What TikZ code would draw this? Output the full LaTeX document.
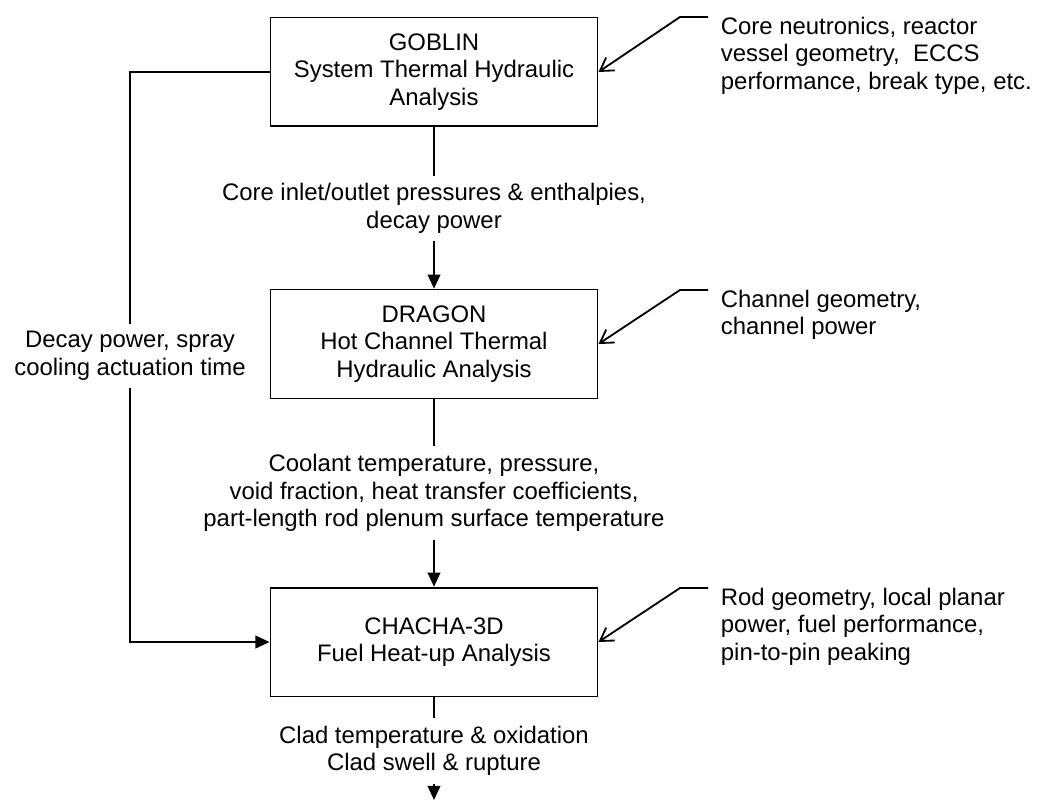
\documentclass[tikz,border=0pt]{standalone}
\usepackage{fontspec}
\setmainfont{Liberation Sans}
\usepackage{tikz}
\usetikzlibrary{arrows.meta, positioning, calc}

\begin{document}
\begin{tikzpicture}[
    x=0.025cm, y=-0.025cm,
    >={Triangle[length=10pt, width=9pt]},
    line width=1.3pt,
    font=\fontsize{17}{19.6}\selectfont,
    module/.style={draw, rectangle, minimum width=8.175cm, minimum height=2.72cm, align=center, inner sep=0pt},
    data/.style={align=center, inner sep=5pt},
    input/.style={align=left, inner sep=0pt, anchor=north west},
    feed/.style={-{Straight Barb[length=9pt, width=11pt]}}
  ]
  \useasboundingbox (0,0) rectangle (1039,800);

  % code modules
  \node (goblin) [module] at (434,72) {GOBLIN\\System Thermal Hydraulic\\Analysis};
  \node (dragon) [module] at (434,344) {DRAGON\\Hot Channel Thermal\\Hydraulic Analysis};
  \node (chacha) [module] at (434,642) {CHACHA-3D\\Fuel Heat-up Analysis};

  % data passed between modules
  \node (inlet) [data] at (434,208.5) {Core inlet/outlet pressures \& enthalpies,\\decay power};
  \node (coolant) [data] at (434,493) {Coolant temperature, pressure,\\void fraction, heat transfer coefficients,\\part-length rod plenum surface temperature};
  \node (clad) [data] at (434,751) {Clad temperature \& oxidation\\Clad swell \& rupture};
  \node (decay) [data] at (130,356) {Decay power, spray\\cooling actuation time};
  \coordinate (out) at (434,800);

  % external inputs
  \node (coreinp) [input] at (720,16) {Core neutronics, reactor\\vessel geometry,\ \ ECCS\\performance, break type, etc.};
  \node (chaninp) [input] at (720,289) {Channel geometry,\\channel power};
  \node (rodinp) [input] at (720,587) {Rod geometry, local planar\\power, fuel performance,\\pin-to-pin peaking};
  \coordinate (coreknee) at (680,17);
  \coordinate (chanknee) at (680,290);
  \coordinate (rodknee) at (680,588);

  \draw (goblin) -- (inlet);
  \draw[->] (inlet) -- (dragon);
  \draw (dragon) -- (coolant);
  \draw[->] (coolant) -- (chacha);
  \draw (chacha) -- (clad);
  \draw[->] (clad) -- (out);
  \draw (goblin.west) -| (decay.north);
  \draw[->] (decay.south) |- (chacha.west);

  \draw[feed] (coreknee -| coreinp.west) ++(-12,0) -- (coreknee) -- (goblin.east);
  \draw[feed] (chanknee -| chaninp.west) ++(-12,0) -- (chanknee) -- (dragon.east);
  \draw[feed] (rodknee -| rodinp.west) ++(-12,0) -- (rodknee) -- (chacha.east);
\end{tikzpicture}
\end{document}
